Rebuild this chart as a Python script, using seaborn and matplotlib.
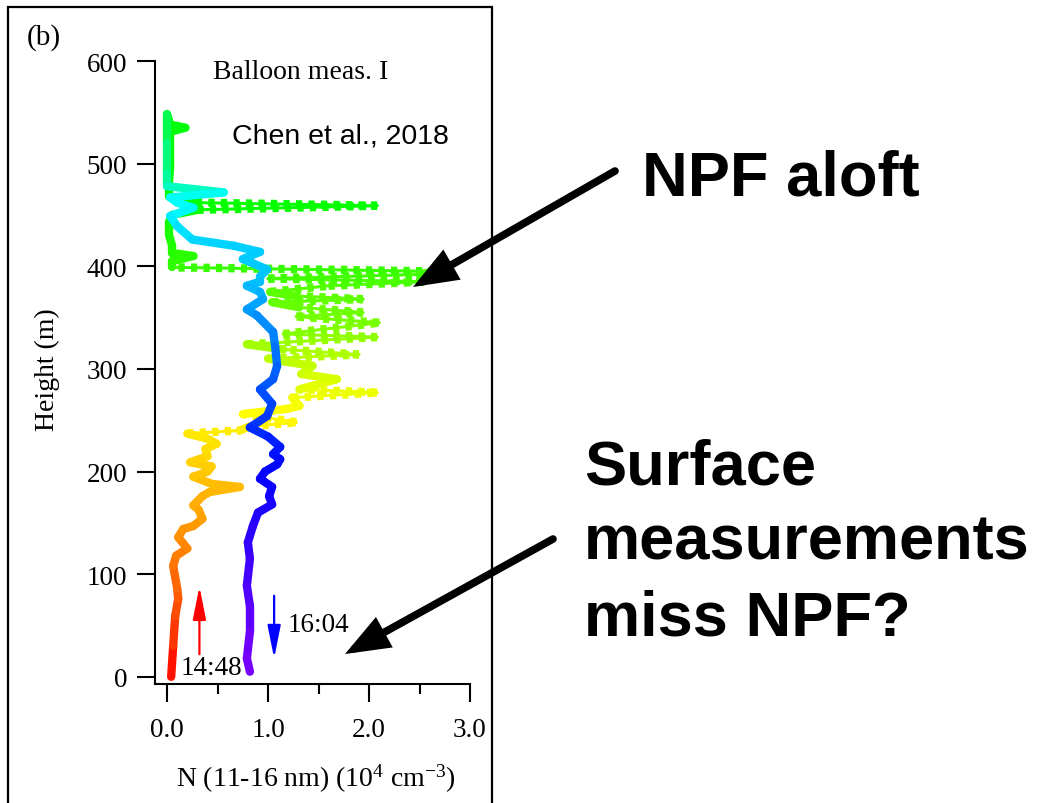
import numpy as np
import pandas as pd
import matplotlib
matplotlib.use("Agg")
import matplotlib.pyplot as plt
import seaborn as sns
from matplotlib.colors import hsv_to_rgb
from matplotlib.patches import Rectangle
from matplotlib.ticker import MultipleLocator

# ---------------- data ----------------
# Ascent profile (14:48), bottom -> top : height (m), N (1e4 cm-3)
asc_height = [0, 30, 59, 76, 86, 108, 118, 125, 136, 144, 147, 154, 163, 167, 176,
              180, 185, 188, 195, 200, 205, 209, 215, 222, 227, 232, 237, 240, 244,
              248, 256, 261, 264, 272, 277, 280, 290, 295, 303, 307, 310, 314, 319,
              324, 331, 334, 345, 351, 355, 360, 365, 368, 371, 375, 381, 385, 388,
              392, 395, 399, 405, 410, 413, 420, 430, 443, 450, 455, 459, 462, 468,
              485, 498, 531, 535, 538, 548]
asc_n = [0.04, 0.06, 0.08, 0.11, 0.10, 0.06, 0.09, 0.20, 0.11, 0.16, 0.26, 0.35, 0.31,
         0.26, 0.35, 0.42, 0.72, 0.44, 0.26, 0.40, 0.44, 0.23, 0.40, 0.38, 0.49, 0.40,
         0.20, 0.72, 0.82, 1.28, 0.75, 1.18, 1.31, 1.24, 2.08, 1.31, 1.68, 1.33, 1.44,
         1.18, 1.00, 1.90, 1.15, 0.79, 2.08, 1.15, 2.10, 1.28, 1.94, 1.31, 1.04, 1.94,
         1.28, 1.02, 1.60, 2.55, 1.00, 2.50, 2.65, 0.05, 0.05, 0.26, 0.05, 0.05, 0.02,
         0.02, 0.05, 0.30, 2.08, 0.30, 0.02, 0.02, 0.03, 0.03, 0.18, 0.03, 0.00]

# Descent profile (16:04), top -> bottom
desc_height = [548, 520, 490, 478, 472, 467, 462, 457, 449, 439, 426, 420, 414, 407,
               397, 390, 385, 381, 375, 368, 358, 352, 336, 322, 303, 290, 280, 266,
               254, 243, 234, 224, 217, 212, 207, 200, 193, 185, 176, 168, 160, 147,
               131, 115, 89, 69, 44, 18, 5]
desc_n = [0.00, 0.00, 0.00, 0.00, 0.56, 0.03, 0.10, 0.26, 0.03, 0.10, 0.25, 0.66,
          0.92, 0.75, 0.99, 0.92, 0.92, 0.79, 0.92, 0.95, 0.79, 0.89, 1.05, 1.07,
          1.09, 1.05, 0.92, 1.04, 0.99, 0.82, 1.00, 1.12, 1.05, 1.12, 1.09, 0.97,
          0.92, 1.04, 1.01, 1.04, 0.90, 0.85, 0.80, 0.82, 0.79, 0.82, 0.82, 0.79, 0.82]

x_ticks = [0.0, 1.0, 2.0, 3.0]
x_ticklabels = ["0.0", "1.0", "2.0", "3.0"]
y_ticks = [0, 100, 200, 300, 400, 500, 600]
y_ticklabels = ["0", "100", "200", "300", "400", "500", "600"]

# colour (hue) along each flight, by height  (style, not data)
asc_hue_z = [0, 50, 100, 150, 200, 240, 280, 300, 340, 380, 400, 460, 548]
asc_hue_h = [0.0, 0.04, 0.07, 0.10, 0.13, 0.155, 0.18, 0.20, 0.25, 0.28, 0.30, 0.33, 0.34]
desc_hue_z = [0, 50, 150, 200, 250, 300, 350, 385, 420, 470, 478, 548]
desc_hue_h = [0.75, 0.73, 0.69, 0.667, 0.63, 0.60, 0.57, 0.54, 0.53, 0.49, 0.44, 0.37]

# ---------------- style ----------------
sns.set_theme(style="ticks")
plt.rcParams["font.family"] = ["Liberation Serif", "DejaVu Serif"]
plt.rcParams["mathtext.fontset"] = "custom"
plt.rcParams["mathtext.rm"] = "Liberation Serif"
plt.rcParams["mathtext.it"] = "Liberation Serif:italic"
plt.rcParams["mathtext.default"] = "regular"


def build_segments(z, n, hz, hh, tag, dotted):
    rows = []
    for i in range(len(z) - 1):
        zm = 0.5 * (z[i] + z[i + 1])
        h = float(np.interp(zm, hz, hh))
        kind = "dot" if (dotted and abs(n[i + 1] - n[i]) > 0.45) else "solid"
        sid = f"{tag}{i:03d}"
        rows.append((sid, n[i], z[i], kind, h))
        rows.append((sid, n[i + 1], z[i + 1], kind, h))
    return pd.DataFrame(rows, columns=["seg", "N", "z", "kind", "hue"])


asc_df = build_segments(asc_height, asc_n, asc_hue_z, asc_hue_h, "a", True)
desc_df = build_segments(desc_height, desc_n, desc_hue_z, desc_hue_h, "d", False)


def palette_of(df):
    return {s: tuple(hsv_to_rgb((h, 1.0, 1.0)))
            for s, h in df.groupby("seg")["hue"].first().items()}


W, H = 1038, 804
fig = plt.figure(figsize=(W / 100, H / 100), dpi=100)
ax = fig.add_axes([155 / W, 1 - 685 / H, 315 / W, 623 / H])

LW = 6
for df, zo in ((asc_df, 2), (desc_df, 3)):
    pal = palette_of(df)
    dots = df[df["kind"] == "dot"]
    solid = df[df["kind"] == "solid"]
    if len(dots):
        dpal = {k: pal[k] for k in dots["seg"].unique()}
        sns.lineplot(data=dots, x="N", y="z", hue="seg", palette=dpal,
                     sort=False, estimator=None, legend=False, lw=2.2,
                     ax=ax, zorder=zo)
        sns.lineplot(data=dots, x="N", y="z", hue="seg", palette=dpal,
                     sort=False, estimator=None, legend=False, lw=LW,
                     linestyle=(0, (0.75, 0.75)), dash_capstyle="butt",
                     ax=ax, zorder=zo)
    sns.lineplot(data=solid, x="N", y="z", hue="seg",
                 palette={k: pal[k] for k in solid["seg"].unique()},
                 sort=False, estimator=None, legend=False, lw=LW,
                 solid_capstyle="round", solid_joinstyle="round",
                 ax=ax, zorder=zo)

ax.set_xlim(-0.12, 3.0)
ax.set_ylim(-7, 600)
ax.set_xticks(x_ticks)
ax.set_xticklabels(x_ticklabels)
ax.xaxis.set_minor_locator(MultipleLocator(0.5))
ax.set_yticks(y_ticks)
ax.set_yticklabels(y_ticklabels)
ax.tick_params(axis="both", which="major", direction="out", length=13, width=1.5,
               pad=7, labelsize=19.5, color="black", labelcolor="black")
ax.tick_params(axis="x", which="minor", direction="out", length=7, width=1.5, color="black")
ax.tick_params(axis="x", which="major", pad=11)
for s in ("top", "right"):
    ax.spines[s].set_visible(False)
for s in ("left", "bottom"):
    ax.spines[s].set_linewidth(1.5)
    ax.spines[s].set_color("black")

ax.set_xlabel("N (11-16 nm) (10$^{4}$ cm$^{-3}$)", fontsize=20, color="black")
ax.set_ylabel("Height (m)", fontsize=20, color="black")
ax.xaxis.set_label_coords(0.51, -0.125)
ax.yaxis.set_label_coords(-0.30, 0.506)

# in-panel texts
ax.text(0.45, 590, "Balloon meas. I", fontsize=20, ha="left", va="center",
        color="black", clip_on=False)
ax.text(0.64, 527, "Chen et al., 2018", fontsize=20.5, ha="left", va="center",
        color="black", family=["Liberation Sans", "DejaVu Sans"])
ax.text(0.13, 9, "14:48", fontsize=19.5, ha="left", va="center", color="black")
ax.text(1.19, 51, "16:04", fontsize=19.5, ha="left", va="center", color="black")

ax.annotate("", xy=(0.32, 88), xytext=(0.32, 22),
            arrowprops=dict(arrowstyle="-|>,head_length=2.0,head_width=0.4",
                            mutation_scale=10, lw=1.6, color="red",
                            shrinkA=0, shrinkB=0))
ax.annotate("", xy=(1.06, 18), xytext=(1.06, 79),
            arrowprops=dict(arrowstyle="-|>,head_length=2.0,head_width=0.4",
                            mutation_scale=10, lw=1.6, color="blue",
                            shrinkA=0, shrinkB=0))

fig.text(27 / W, 1 - 38 / H, "(b)", fontsize=21, ha="left", va="center", color="black")

# panel frame
fig.add_artist(Rectangle((8 / W, -0.05), (492 - 8) / W, 1.05 - 8 / H,
                         transform=fig.transFigure, fill=False, lw=1.6,
                         edgecolor="black", clip_on=False))

# big annotations
bold = dict(family=["Liberation Sans", "DejaVu Sans"], fontweight="bold",
            fontsize=45.5, color="black", ha="left", va="baseline")
fig.text(642 / W, 1 - 195 / H, "NPF aloft", **bold)
fig.text(584 / W, 1 - 485 / H, "Surface", **bold)
fig.text(584 / W, 1 - 560 / H, "measurements", **bold)
fig.text(584 / W, 1 - 635 / H, "miss NPF?", **bold)

big_arrow = dict(arrowstyle="-|>,head_length=2.2,head_width=0.85", mutation_scale=10,
                 lw=5.5, color="black", shrinkA=0, shrinkB=0, joinstyle="miter")
ax.annotate("", xy=(413, H - 288), xycoords="figure pixels",
            xytext=(615, H - 172), textcoords="figure pixels",
            arrowprops=big_arrow, annotation_clip=False)
ax.annotate("", xy=(345, H - 655), xycoords="figure pixels",
            xytext=(553, H - 540), textcoords="figure pixels",
            arrowprops=big_arrow, annotation_clip=False)

fig.savefig("out.png", dpi=100)
